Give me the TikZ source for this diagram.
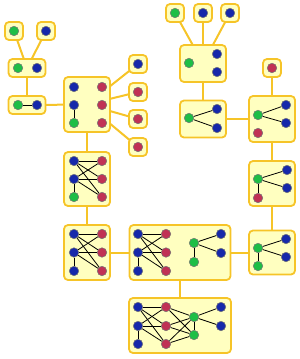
\documentclass[tikz,border=0pt]{standalone}
\usetikzlibrary{backgrounds}
\definecolor{boxfill}{RGB}{255,255,192}
\definecolor{boxline}{RGB}{246,196,40}
\definecolor{dotgreen}{RGB}{30,190,70}
\definecolor{dotblue}{RGB}{22,40,170}
\definecolor{dotred}{RGB}{192,50,85}
\tikzset{
  box/.style={draw=boxline, fill=boxfill, line width=1.8pt, rounded corners=4pt, inner sep=0pt},
  leafbox/.style={box, minimum size=18pt},
  link/.style={draw=boxline, line width=2pt},
  dot/.style={circle, draw=black!55, line width=0.5pt, inner sep=0pt, minimum size=9.5pt},
  gdot/.style={dot, fill=dotgreen},
  bdot/.style={dot, fill=dotblue},
  rdot/.style={dot, fill=dotred},
  tie/.style={black, line width=0.8pt}
}
\begin{document}
\begin{tikzpicture}[x=1pt,y=-1pt]
    \useasboundingbox (0,0) rectangle (300,359);
    % Boxes
    \node[leafbox] (a1) at (14,31) {};
    \node[leafbox] (a2) at (46,31) {};
    \node[box, minimum width=37pt, minimum height=18pt] (b) at (27,68) {};
    \node[box, minimum width=37pt, minimum height=18pt] (c) at (27,105) {};
    \node[box, minimum width=46pt, minimum height=55pt] (d) at (87,104.5) {};
    \foreach \y/\n in {64/s1,92/s2,119/s3,147/s4}
        \node[leafbox] (\n) at (138,\y) {};
    \node[box, minimum width=46pt, minimum height=54pt] (e) at (87,179) {};
    \node[box, minimum width=46pt, minimum height=55pt] (f) at (87,252.5) {};
    \node[box, minimum width=101pt, minimum height=55pt] (g) at (180,252.5) {};
    \node[box, minimum width=102pt, minimum height=55pt] (i) at (180,325.5) {};
    \node[box, minimum width=46pt, minimum height=44pt] (h) at (272,252.5) {};
    \node[box, minimum width=46pt, minimum height=45pt] (m) at (272,183.5) {};
    \node[box, minimum width=46pt, minimum height=46pt] (l) at (272,119) {};
    \node[leafbox] (lr) at (272,68) {};
    \node[box, minimum width=46pt, minimum height=37pt] (k) at (203,119) {};
    \node[box, minimum width=46pt, minimum height=37pt] (j) at (203,63.5) {};
    \foreach \x/\n in {175/t1,203/t2,230/t3}
        \node[leafbox] (\n) at (\x,13) {};
    % Links between boxes
    \begin{scope}[on background layer]
        \draw[link] (a1.center) -- (b.center);
        \draw[link] (a2.center) -- (b.center);
        \draw[link] (b.center) -- (c.center);
        \draw[link] (c.center) -- (d.center);
        \foreach \n in {s1,s2,s3,s4}
            \draw[link] (d.center) -- (\n.center);
        \draw[link] (d.center) -- (e.center);
        \draw[link] (e.center) -- (f.center);
        \draw[link] (f.center) -- (g.center);
        \draw[link] (g.center) -- (i.center);
        \draw[link] (g.center) -- (h.center);
        \draw[link] (h.center) -- (m.center);
        \draw[link] (m.center) -- (l.center);
        \draw[link] (l.center) -- (lr.center);
        \draw[link] (l.center) -- (k.center);
        \draw[link] (k.center) -- (j.center);
        \foreach \n in {t1,t2,t3}
            \draw[link] (j.center) -- (\n.center);
    \end{scope}
    % Small boxes
    \node[gdot] (a1g) at (14,31) {};
    \node[bdot] (a2b) at (46,31) {};
    \node[gdot] (bg) at (18,68) {};
    \node[bdot] (bb) at (37,68) {};
    \node[gdot] (cg) at (18,105) {};
    \node[bdot] (cb) at (37,105) {};
    \draw[tie] (cg) -- (cb);
    \node[bdot] (s1b) at (138,64) {};
    \node[rdot] (s2r) at (138,92) {};
    \node[rdot] (s3r) at (138,119) {};
    \node[rdot] (s4r) at (138,147) {};
    \node[rdot] (lrr) at (272,68) {};
    \node[gdot] (t1g) at (175,13) {};
    \node[bdot] (t2b) at (203,13) {};
    \node[bdot] (t3b) at (230,13) {};
    % Box d
    \node[bdot] (d1) at (74,87) {};
    \node[bdot] (d2) at (74,105) {};
    \node[gdot] (d3) at (74,123) {};
    \node[rdot] (d4) at (102,87) {};
    \node[rdot] (d5) at (102,105) {};
    \node[rdot] (d6) at (102,123) {};
    \draw[tie] (d2) -- (d3);
    % Boxes e, f
    \node[bdot] (e1) at (74,161) {};
    \node[bdot] (e2) at (74,179) {};
    \node[gdot] (e3) at (74,197) {};
    \node[rdot] (e4) at (102,161) {};
    \node[rdot] (e5) at (102,179) {};
    \node[rdot] (e6) at (102,197) {};
    \node[bdot] (f1) at (74,234) {};
    \node[bdot] (f2) at (74,252.5) {};
    \node[bdot] (f3) at (74,271) {};
    \node[rdot] (f4) at (102,234) {};
    \node[rdot] (f5) at (102,252.5) {};
    \node[rdot] (f6) at (102,271) {};
    % Box g
    \node[bdot] (g1) at (138,234) {};
    \node[bdot] (g2) at (138,252.5) {};
    \node[bdot] (g3) at (138,271) {};
    \node[rdot] (g4) at (166,234) {};
    \node[rdot] (g5) at (166,252.5) {};
    \node[rdot] (g6) at (166,271) {};
    \node[gdot] (g7) at (194,243) {};
    \node[gdot] (g8) at (194,262) {};
    \node[bdot] (g9) at (221,234) {};
    \node[bdot] (g10) at (221,253) {};
    \draw[tie] (g7) -- (g9);
    \draw[tie] (g7) -- (g10);
    \draw[tie] (g7) -- (g8);
    % Box i
    \node[bdot] (i1) at (138,307) {};
    \node[bdot] (i2) at (138,326) {};
    \node[bdot] (i3) at (138,344) {};
    \node[rdot] (i4) at (166,307) {};
    \node[rdot] (i5) at (166,326) {};
    \node[rdot] (i6) at (166,344) {};
    \node[gdot] (i7) at (194,317) {};
    \node[gdot] (i8) at (194,335) {};
    \node[bdot] (i9) at (221,307) {};
    \node[bdot] (i10) at (221,326) {};
    \foreach \p in {4,5,6}
        \foreach \q in {7,8}
            \draw[tie] (i\p) -- (i\q);
    \draw[tie] (i7) -- (i8);
    \draw[tie] (i7) -- (i9);
    \draw[tie] (i7) -- (i10);
    % Bipartite parts of e, f, g, i
    \foreach \s in {e,f,g,i} {
        \foreach \p in {1,2}
            \foreach \q in {4,5,6}
                \draw[tie] (\s\p) -- (\s\q);
        \draw[tie] (\s2) -- (\s3);
    }
    % Boxes h, m, l
    \node[gdot] (h1) at (258,248) {};
    \node[bdot] (h2) at (286,239) {};
    \node[bdot] (h3) at (286,257) {};
    \node[gdot] (h4) at (258,266) {};
    \node[gdot] (m1) at (258,179) {};
    \node[bdot] (m2) at (287,170) {};
    \node[bdot] (m3) at (287,188) {};
    \node[rdot] (m4) at (258,198) {};
    \node[gdot] (l1) at (258,115) {};
    \node[bdot] (l2) at (286,105) {};
    \node[bdot] (l3) at (286,123) {};
    \node[rdot] (l4) at (258,133) {};
    \foreach \s in {h,m} {
        \draw[tie] (\s1) -- (\s2);
        \draw[tie] (\s1) -- (\s3);
        \draw[tie] (\s1) -- (\s4);
    }
    \draw[tie] (l1) -- (l2);
    \draw[tie] (l1) -- (l3);
    % Boxes k, j
    \node[gdot] (k1) at (189,118) {};
    \node[bdot] (k2) at (217,109) {};
    \node[bdot] (k3) at (217,128) {};
    \draw[tie] (k1) -- (k2);
    \draw[tie] (k1) -- (k3);
    \node[gdot] (j1) at (189,63) {};
    \node[bdot] (j2) at (217,54) {};
    \node[bdot] (j3) at (217,72) {};
\end{tikzpicture}
\end{document}
